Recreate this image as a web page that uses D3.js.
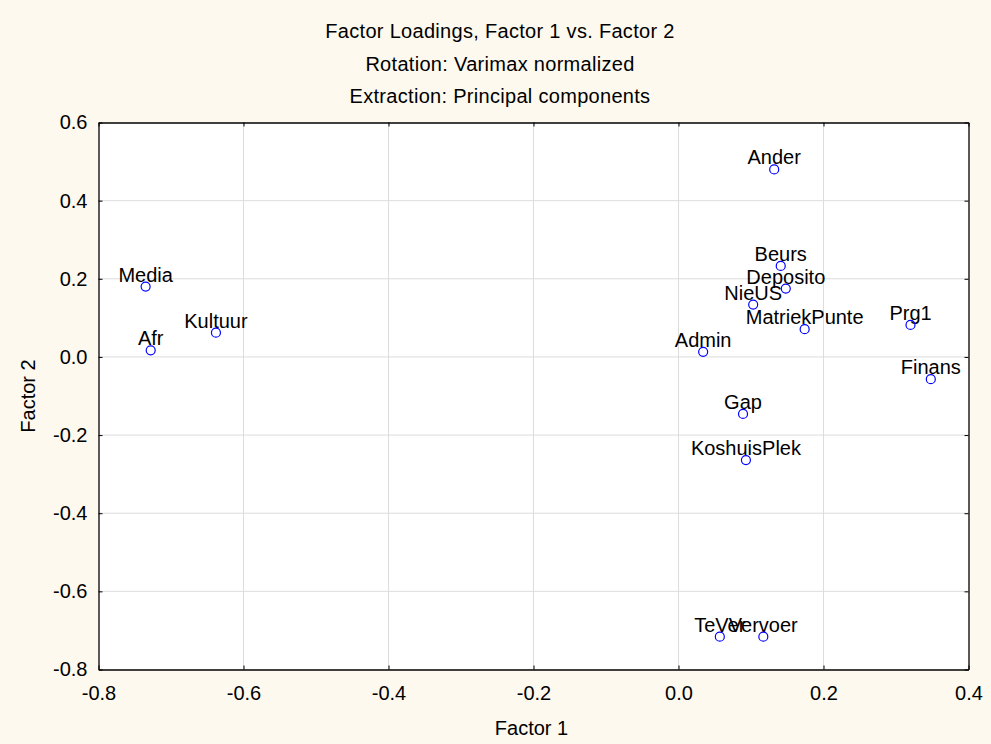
<!DOCTYPE html>
<html>
<head>
<meta charset="utf-8">
<script src="https://cdn.jsdelivr.net/npm/d3@7"></script>
<style>
  body { margin: 0; background: #fdf9ef; }
  svg { display: block; font-family: "Liberation Sans", Arial, sans-serif; }
</style>
</head>
<body>
<script>
// variable names and their loadings on factor 1 and factor 2
const names = ["Media", "Afr", "Kultuur", "Ander", "Beurs", "Deposito", "NieUS", "MatriekPunte",
    "Prg1", "Admin", "Finans", "Gap", "KoshuisPlek", "TeVer", "Vervoer"];
const factor1 = [-0.735, -0.728, -0.638, 0.132, 0.141, 0.148, 0.103, 0.174,
    0.320, 0.034, 0.348, 0.089, 0.093, 0.057, 0.117];
const factor2 = [0.180, 0.017, 0.062, 0.480, 0.233, 0.175, 0.134, 0.071,
    0.082, 0.013, -0.057, -0.146, -0.264, -0.716, -0.716];
const xTicks = [-0.8, -0.6, -0.4, -0.2, 0.0, 0.2, 0.4];
const yTicks = [-0.8, -0.6, -0.4, -0.2, 0.0, 0.2, 0.4, 0.6];
const titleLines = ["Factor Loadings, Factor 1 vs. Factor 2", "Rotation: Varimax normalized",
    "Extraction: Principal components"];

window.onload = initPage;

function initPage() {
    const svgInfo = {
        SVG_WIDTH: 991,
        SVG_HEIGHT: 744,
        LEFT: 98.5,
        RIGHT: 968.5,
        TOP: 122.5,
        BOTTOM: 669.5,
    };
    const svg = d3.select("body")
        .append("svg")
        .attr("width", svgInfo.SVG_WIDTH)
        .attr("height", svgInfo.SVG_HEIGHT);

    const x = d3.scaleLinear().domain([-0.8, 0.4]).range([svgInfo.LEFT, svgInfo.RIGHT]);
    const y = d3.scaleLinear().domain([-0.8, 0.6]).range([svgInfo.BOTTOM, svgInfo.TOP]);

    // plot background
    svg.append("rect")
        .attr("x", svgInfo.LEFT).attr("y", svgInfo.TOP)
        .attr("width", svgInfo.RIGHT - svgInfo.LEFT)
        .attr("height", svgInfo.BOTTOM - svgInfo.TOP)
        .attr("fill", "#fff");

    // grid
    svg.append("g").selectAll("line")
        .data(xTicks.slice(1, -1)).enter().append("line")
        .attr("x1", d => x(d)).attr("x2", d => x(d))
        .attr("y1", svgInfo.TOP).attr("y2", svgInfo.BOTTOM)
        .attr("stroke", "#dcdcdc");
    svg.append("g").selectAll("line")
        .data(yTicks.slice(1, -1)).enter().append("line")
        .attr("y1", d => y(d)).attr("y2", d => y(d))
        .attr("x1", svgInfo.LEFT).attr("x2", svgInfo.RIGHT)
        .attr("stroke", "#dcdcdc");

    // axes with inward ticks
    const fmt = d => d.toFixed(1);
    const xAxis = svg.append("g")
        .attr("transform", `translate(0,${svgInfo.BOTTOM})`)
        .call(d3.axisBottom(x).tickValues(xTicks).tickFormat(fmt).tickSizeInner(-4).tickSizeOuter(0).tickPadding(16));
    const xAxisTop = svg.append("g")
        .attr("transform", `translate(0,${svgInfo.TOP})`)
        .call(d3.axisTop(x).tickValues(xTicks).tickFormat("").tickSizeInner(-4).tickSizeOuter(0));
    const yAxis = svg.append("g")
        .attr("transform", `translate(${svgInfo.LEFT},0)`)
        .call(d3.axisLeft(y).tickValues(yTicks).tickFormat(fmt).tickSizeInner(-4).tickSizeOuter(0).tickPadding(11));
    const yAxisRight = svg.append("g")
        .attr("transform", `translate(${svgInfo.RIGHT},0)`)
        .call(d3.axisRight(y).tickValues(yTicks).tickFormat("").tickSizeInner(-4).tickSizeOuter(0));
    [xAxis, xAxisTop, yAxis, yAxisRight].forEach(g => {
        g.select(".domain").attr("stroke", "#000").attr("stroke-width", 1.3);
        g.selectAll(".tick line").attr("stroke", "#000");
        g.selectAll("text").attr("font-family", "Liberation Sans, Arial, sans-serif")
            .attr("font-size", 20).attr("fill", "#000");
    });

    // titles
    svg.append("g").selectAll("text")
        .data(titleLines).enter().append("text")
        .attr("x", 500).attr("y", (d, i) => 38 + i * 32.5)
        .attr("text-anchor", "middle")
        .attr("font-size", 20).attr("letter-spacing", 0.3)
        .text(d => d);
    svg.append("text")
        .attr("x", (svgInfo.LEFT + svgInfo.RIGHT) / 2 - 2).attr("y", 735)
        .attr("text-anchor", "middle").attr("font-size", 20)
        .text("Factor 1");
    svg.append("text")
        .attr("transform", `translate(35,${(svgInfo.TOP + svgInfo.BOTTOM) / 2}) rotate(-90)`)
        .attr("text-anchor", "middle").attr("font-size", 20)
        .text("Factor 2");

    // points
    const data = names.map((n, i) => ({ name: n, f1: factor1[i], f2: factor2[i] }));
    const pts = svg.append("g").selectAll("g")
        .data(data).enter().append("g");
    pts.append("text")
        .attr("x", d => x(d.f1)).attr("y", d => y(d.f2) - 5)
        .attr("text-anchor", "middle").attr("font-size", 20)
        .text(d => d.name);
    pts.append("circle")
        .attr("cx", d => x(d.f1)).attr("cy", d => y(d.f2))
        .attr("r", 4.5)
        .attr("fill", "none").attr("stroke", "#0000ff").attr("stroke-width", 1.2);
}
</script>
</body>
</html>
